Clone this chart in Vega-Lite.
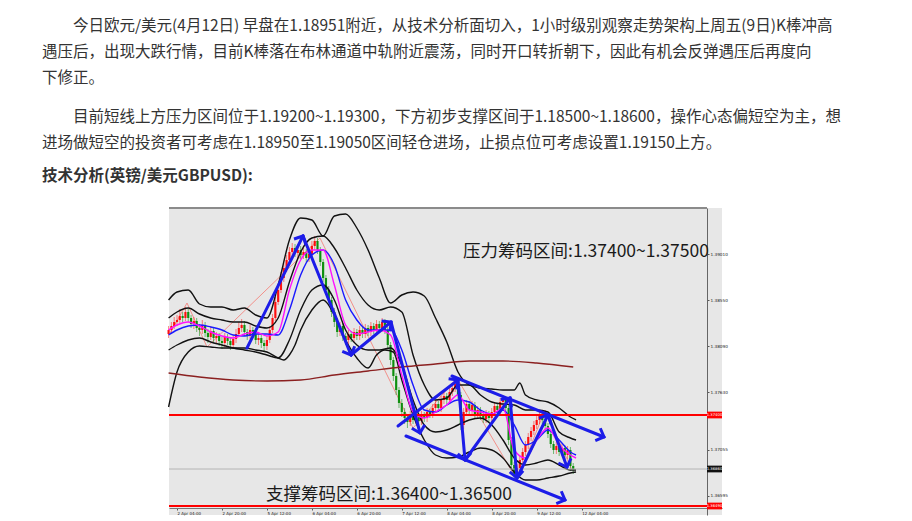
{
  "$schema": "https://vega.github.io/schema/vega-lite/v6.json",
  "width": 553,
  "height": 307,
  "autosize": {"type": "none"},
  "padding": {"left": 169, "top": 208, "right": 190, "bottom": 6},
  "background": "white",
  "title": {
    "text": [
      "\u200b　　今日欧元/美元(4月12日) 早盘在1.18951附近，从技术分析面切入，1小时级别观察走势架构上周五(9日)K棒冲高",
      "\u200b",
      "遇压后，出现大跌行情，目前K棒落在布林通道中轨附近震荡，同时开口转折朝下，因此有机会反弹遇压后再度向",
      "\u200b",
      "下修正。",
      "\u200b",
      "\u200b",
      "\u200b　　目前短线上方压力区间位于1.19200~1.19300，下方初步支撑区间于1.18500~1.18600，操作心态偏短空为主，想",
      "\u200b",
      "进场做短空的投资者可考虑在1.18950至1.19050区间轻仓进场，止损点位可考虑设置1.19150上方。"
    ],
    "subtitle": "技术分析(英镑/美元GBPUSD):",
    "anchor": "start",
    "frame": "group",
    "orient": "top",
    "offset": 23,
    "dx": -127,
    "font": "Noto Sans CJK SC",
    "fontSize": 15.5,
    "fontWeight": "normal",
    "color": "#333333",
    "lineHeight": 13,
    "subtitleFont": "Noto Sans CJK SC",
    "subtitleFontSize": 15.5,
    "subtitleFontWeight": "bold",
    "subtitleColor": "#333333",
    "subtitlePadding": 17.5
  },
  "config": {
    "view": {"fill": "#e7e7e7", "stroke": null},
    "font": "DejaVu Sans",
    "axis": {"labelOverlap": false, "labelFlush": false, "labelBound": false}
  },
  "datasets": {
    "candles": [
      {"i":-3,"o":1.3821,"h":1.3829,"l":1.3817,"c":1.3825},
      {"i":-2,"o":1.3825,"h":1.3833,"l":1.3821,"c":1.3829},
      {"i":-1,"o":1.3829,"h":1.3838,"l":1.3826,"c":1.3833},
      {"i":0,"o":1.3833,"h":1.3840,"l":1.3829,"c":1.3835},
      {"i":1,"o":1.3835,"h":1.3846,"l":1.3832,"c":1.3839},
      {"i":2,"o":1.3839,"h":1.3843,"l":1.3833,"c":1.3837},
      {"i":3,"o":1.3837,"h":1.3848,"l":1.3834,"c":1.3843},
      {"i":4,"o":1.3843,"h":1.3846,"l":1.3833,"c":1.3837},
      {"i":5,"o":1.3837,"h":1.3840,"l":1.3827,"c":1.3831},
      {"i":6,"o":1.3831,"h":1.3838,"l":1.3826,"c":1.3834},
      {"i":7,"o":1.3834,"h":1.3837,"l":1.3823,"c":1.3827},
      {"i":8,"o":1.3827,"h":1.3831,"l":1.3819,"c":1.3825},
      {"i":9,"o":1.3825,"h":1.3835,"l":1.3821,"c":1.3830},
      {"i":10,"o":1.3830,"h":1.3833,"l":1.3818,"c":1.3822},
      {"i":11,"o":1.3822,"h":1.3826,"l":1.3812,"c":1.3818},
      {"i":12,"o":1.3818,"h":1.3829,"l":1.3815,"c":1.3824},
      {"i":13,"o":1.3824,"h":1.3827,"l":1.3813,"c":1.3817},
      {"i":14,"o":1.3817,"h":1.3823,"l":1.3811,"c":1.3819},
      {"i":15,"o":1.3819,"h":1.3822,"l":1.3809,"c":1.3814},
      {"i":16,"o":1.3814,"h":1.3818,"l":1.3806,"c":1.3812},
      {"i":17,"o":1.3812,"h":1.3822,"l":1.3808,"c":1.3818},
      {"i":18,"o":1.3818,"h":1.3821,"l":1.3810,"c":1.3814},
      {"i":19,"o":1.3814,"h":1.3817,"l":1.3805,"c":1.3810},
      {"i":20,"o":1.3810,"h":1.3820,"l":1.3806,"c":1.3816},
      {"i":21,"o":1.3816,"h":1.3826,"l":1.3812,"c":1.3821},
      {"i":22,"o":1.3821,"h":1.3833,"l":1.3818,"c":1.3827},
      {"i":23,"o":1.3827,"h":1.3836,"l":1.3823,"c":1.3830},
      {"i":24,"o":1.3830,"h":1.3834,"l":1.3819,"c":1.3823},
      {"i":25,"o":1.3823,"h":1.3826,"l":1.3815,"c":1.3819},
      {"i":26,"o":1.3819,"h":1.3830,"l":1.3816,"c":1.3825},
      {"i":27,"o":1.3825,"h":1.3828,"l":1.3817,"c":1.3821},
      {"i":28,"o":1.3821,"h":1.3824,"l":1.3811,"c":1.3815},
      {"i":29,"o":1.3815,"h":1.3821,"l":1.3810,"c":1.3817},
      {"i":30,"o":1.3817,"h":1.3820,"l":1.3807,"c":1.3812},
      {"i":31,"o":1.3812,"h":1.3815,"l":1.3803,"c":1.3809},
      {"i":32,"o":1.3809,"h":1.3819,"l":1.3805,"c":1.3815},
      {"i":33,"o":1.3815,"h":1.3829,"l":1.3812,"c":1.3825},
      {"i":34,"o":1.3825,"h":1.3841,"l":1.3822,"c":1.3837},
      {"i":35,"o":1.3837,"h":1.3858,"l":1.3834,"c":1.3853},
      {"i":36,"o":1.3853,"h":1.3870,"l":1.3850,"c":1.3865},
      {"i":37,"o":1.3865,"h":1.3883,"l":1.3862,"c":1.3877},
      {"i":38,"o":1.3877,"h":1.3892,"l":1.3873,"c":1.3887},
      {"i":39,"o":1.3887,"h":1.3900,"l":1.3883,"c":1.3895},
      {"i":40,"o":1.3895,"h":1.3908,"l":1.3891,"c":1.3903},
      {"i":41,"o":1.3903,"h":1.3912,"l":1.3899,"c":1.3907},
      {"i":42,"o":1.3907,"h":1.3911,"l":1.3898,"c":1.3902},
      {"i":43,"o":1.3902,"h":1.3910,"l":1.3897,"c":1.3905},
      {"i":44,"o":1.3905,"h":1.3909,"l":1.3896,"c":1.3900},
      {"i":45,"o":1.3900,"h":1.3907,"l":1.3896,"c":1.3903},
      {"i":46,"o":1.3903,"h":1.3906,"l":1.3893,"c":1.3897},
      {"i":47,"o":1.3897,"h":1.3905,"l":1.3893,"c":1.3901},
      {"i":48,"o":1.3901,"h":1.3914,"l":1.3898,"c":1.3909},
      {"i":49,"o":1.3909,"h":1.3919,"l":1.3905,"c":1.3914},
      {"i":50,"o":1.3914,"h":1.3917,"l":1.3901,"c":1.3905},
      {"i":51,"o":1.3905,"h":1.3908,"l":1.3889,"c":1.3893},
      {"i":52,"o":1.3893,"h":1.3896,"l":1.3873,"c":1.3877},
      {"i":53,"o":1.3877,"h":1.3880,"l":1.3860,"c":1.3865},
      {"i":54,"o":1.3865,"h":1.3869,"l":1.3850,"c":1.3855},
      {"i":55,"o":1.3855,"h":1.3858,"l":1.3838,"c":1.3843},
      {"i":56,"o":1.3843,"h":1.3847,"l":1.3828,"c":1.3833},
      {"i":57,"o":1.3833,"h":1.3837,"l":1.3818,"c":1.3823},
      {"i":58,"o":1.3823,"h":1.3833,"l":1.3819,"c":1.3829},
      {"i":59,"o":1.3829,"h":1.3832,"l":1.3814,"c":1.3819},
      {"i":60,"o":1.3819,"h":1.3822,"l":1.3810,"c":1.3815},
      {"i":61,"o":1.3815,"h":1.3825,"l":1.3811,"c":1.3821},
      {"i":62,"o":1.3821,"h":1.3824,"l":1.3813,"c":1.3817},
      {"i":63,"o":1.3817,"h":1.3827,"l":1.3813,"c":1.3823},
      {"i":64,"o":1.3823,"h":1.3826,"l":1.3815,"c":1.3819},
      {"i":65,"o":1.3819,"h":1.3829,"l":1.3815,"c":1.3825},
      {"i":66,"o":1.3825,"h":1.3828,"l":1.3817,"c":1.3821},
      {"i":67,"o":1.3821,"h":1.3831,"l":1.3817,"c":1.3827},
      {"i":68,"o":1.3827,"h":1.3830,"l":1.3819,"c":1.3823},
      {"i":69,"o":1.3823,"h":1.3833,"l":1.3819,"c":1.3829},
      {"i":70,"o":1.3829,"h":1.3832,"l":1.3821,"c":1.3825},
      {"i":71,"o":1.3825,"h":1.3835,"l":1.3821,"c":1.3831},
      {"i":72,"o":1.3831,"h":1.3834,"l":1.3823,"c":1.3827},
      {"i":73,"o":1.3827,"h":1.3837,"l":1.3823,"c":1.3833},
      {"i":74,"o":1.3833,"h":1.3836,"l":1.3821,"c":1.3825},
      {"i":75,"o":1.3825,"h":1.3828,"l":1.3806,"c":1.3810},
      {"i":76,"o":1.3810,"h":1.3813,"l":1.3790,"c":1.3795},
      {"i":77,"o":1.3795,"h":1.3798,"l":1.3774,"c":1.3779},
      {"i":78,"o":1.3779,"h":1.3782,"l":1.3760,"c":1.3765},
      {"i":79,"o":1.3765,"h":1.3768,"l":1.3747,"c":1.3752},
      {"i":80,"o":1.3752,"h":1.3756,"l":1.3738,"c":1.3743},
      {"i":81,"o":1.3743,"h":1.3747,"l":1.3731,"c":1.3737},
      {"i":82,"o":1.3737,"h":1.3741,"l":1.3727,"c":1.3733},
      {"i":83,"o":1.3733,"h":1.3744,"l":1.3729,"c":1.3740},
      {"i":84,"o":1.3740,"h":1.3743,"l":1.3731,"c":1.3735},
      {"i":85,"o":1.3735,"h":1.3743,"l":1.3731,"c":1.3739},
      {"i":86,"o":1.3739,"h":1.3742,"l":1.3730,"c":1.3734},
      {"i":87,"o":1.3734,"h":1.3744,"l":1.3730,"c":1.3740},
      {"i":88,"o":1.3740,"h":1.3743,"l":1.3733,"c":1.3737},
      {"i":89,"o":1.3737,"h":1.3747,"l":1.3733,"c":1.3743},
      {"i":90,"o":1.3743,"h":1.3746,"l":1.3737,"c":1.3741},
      {"i":91,"o":1.3741,"h":1.3751,"l":1.3737,"c":1.3747},
      {"i":92,"o":1.3747,"h":1.3755,"l":1.3743,"c":1.3751},
      {"i":93,"o":1.3751,"h":1.3754,"l":1.3743,"c":1.3747},
      {"i":94,"o":1.3747,"h":1.3759,"l":1.3743,"c":1.3755},
      {"i":95,"o":1.3755,"h":1.3763,"l":1.3751,"c":1.3759},
      {"i":96,"o":1.3759,"h":1.3762,"l":1.3751,"c":1.3755},
      {"i":97,"o":1.3755,"h":1.3767,"l":1.3751,"c":1.3763},
      {"i":98,"o":1.3763,"h":1.3771,"l":1.3759,"c":1.3767},
      {"i":99,"o":1.3767,"h":1.3776,"l":1.3763,"c":1.3771},
      {"i":100,"o":1.3771,"h":1.3776,"l":1.3756,"c":1.3760},
      {"i":101,"o":1.3760,"h":1.3763,"l":1.3725,"c":1.3730},
      {"i":102,"o":1.3730,"h":1.3747,"l":1.3726,"c":1.3743},
      {"i":103,"o":1.3743,"h":1.3755,"l":1.3739,"c":1.3751},
      {"i":104,"o":1.3751,"h":1.3754,"l":1.3741,"c":1.3745},
      {"i":105,"o":1.3745,"h":1.3754,"l":1.3741,"c":1.3750},
      {"i":106,"o":1.3750,"h":1.3753,"l":1.3737,"c":1.3741},
      {"i":107,"o":1.3741,"h":1.3749,"l":1.3737,"c":1.3745},
      {"i":108,"o":1.3745,"h":1.3748,"l":1.3735,"c":1.3739},
      {"i":109,"o":1.3739,"h":1.3742,"l":1.3732,"c":1.3736},
      {"i":110,"o":1.3736,"h":1.3745,"l":1.3732,"c":1.3741},
      {"i":111,"o":1.3741,"h":1.3744,"l":1.3733,"c":1.3737},
      {"i":112,"o":1.3737,"h":1.3747,"l":1.3733,"c":1.3743},
      {"i":113,"o":1.3743,"h":1.3753,"l":1.3739,"c":1.3749},
      {"i":114,"o":1.3749,"h":1.3752,"l":1.3741,"c":1.3745},
      {"i":115,"o":1.3745,"h":1.3757,"l":1.3741,"c":1.3753},
      {"i":116,"o":1.3753,"h":1.3760,"l":1.3749,"c":1.3755},
      {"i":117,"o":1.3755,"h":1.3758,"l":1.3743,"c":1.3747},
      {"i":118,"o":1.3747,"h":1.3750,"l":1.3710,"c":1.3715},
      {"i":119,"o":1.3715,"h":1.3718,"l":1.3685,"c":1.3690},
      {"i":120,"o":1.3690,"h":1.3693,"l":1.3674,"c":1.3680},
      {"i":121,"o":1.3680,"h":1.3691,"l":1.3676,"c":1.3687},
      {"i":122,"o":1.3687,"h":1.3699,"l":1.3683,"c":1.3695},
      {"i":123,"o":1.3695,"h":1.3707,"l":1.3691,"c":1.3703},
      {"i":124,"o":1.3703,"h":1.3714,"l":1.3699,"c":1.3710},
      {"i":125,"o":1.3710,"h":1.3722,"l":1.3706,"c":1.3718},
      {"i":126,"o":1.3718,"h":1.3728,"l":1.3714,"c":1.3724},
      {"i":127,"o":1.3724,"h":1.3734,"l":1.3720,"c":1.3730},
      {"i":128,"o":1.3730,"h":1.3740,"l":1.3726,"c":1.3735},
      {"i":129,"o":1.3735,"h":1.3744,"l":1.3731,"c":1.3739},
      {"i":130,"o":1.3739,"h":1.3742,"l":1.3731,"c":1.3735},
      {"i":131,"o":1.3735,"h":1.3738,"l":1.3725,"c":1.3729},
      {"i":132,"o":1.3729,"h":1.3732,"l":1.3717,"c":1.3721},
      {"i":133,"o":1.3721,"h":1.3724,"l":1.3707,"c":1.3711},
      {"i":134,"o":1.3711,"h":1.3714,"l":1.3701,"c":1.3705},
      {"i":135,"o":1.3705,"h":1.3713,"l":1.3701,"c":1.3709},
      {"i":136,"o":1.3709,"h":1.3712,"l":1.3699,"c":1.3703},
      {"i":137,"o":1.3703,"h":1.3711,"l":1.3699,"c":1.3707},
      {"i":138,"o":1.3707,"h":1.3710,"l":1.3696,"c":1.3700},
      {"i":139,"o":1.3700,"h":1.3709,"l":1.3696,"c":1.3705},
      {"i":140,"o":1.3705,"h":1.3708,"l":1.3684,"c":1.3689},
      {"i":141,"o":1.3689,"h":1.3692,"l":1.3681,"c":1.3686}
    ],
    "lines": [
      {"s":"bbU","i":-3,"v":1.3855},{"s":"bbU","i":0,"v":1.3863},{"s":"bbU","i":4,"v":1.3865},{"s":"bbU","i":8,"v":1.3851},{"s":"bbU","i":12,"v":1.3848},{"s":"bbU","i":16,"v":1.3848},{"s":"bbU","i":20,"v":1.3845},{"s":"bbU","i":24,"v":1.3847},{"s":"bbU","i":28,"v":1.3840},{"s":"bbU","i":32,"v":1.3837},{"s":"bbU","i":36,"v":1.3870},{"s":"bbU","i":40,"v":1.3915},{"s":"bbU","i":44,"v":1.3937},{"s":"bbU","i":48,"v":1.3935},{"s":"bbU","i":52,"v":1.3919},{"s":"bbU","i":56,"v":1.3939},{"s":"bbU","i":60,"v":1.3941},{"s":"bbU","i":64,"v":1.3927},{"s":"bbU","i":68,"v":1.3905},{"s":"bbU","i":72,"v":1.3877},{"s":"bbU","i":76,"v":1.3852},{"s":"bbU","i":80,"v":1.3860},{"s":"bbU","i":84,"v":1.3863},{"s":"bbU","i":88,"v":1.3859},{"s":"bbU","i":92,"v":1.3837},{"s":"bbU","i":96,"v":1.3813},{"s":"bbU","i":100,"v":1.3783},{"s":"bbU","i":104,"v":1.3770},{"s":"bbU","i":108,"v":1.3767},{"s":"bbU","i":112,"v":1.3766},{"s":"bbU","i":116,"v":1.3765},{"s":"bbU","i":120,"v":1.3765},{"s":"bbU","i":122,"v":1.3772},{"s":"bbU","i":124,"v":1.3760},{"s":"bbU","i":128,"v":1.3755},{"s":"bbU","i":132,"v":1.3753},{"s":"bbU","i":136,"v":1.3747},{"s":"bbU","i":140,"v":1.3738},{"s":"bbU","i":142,"v":1.3735},
      {"s":"bbL","i":-3,"v":1.3748},{"s":"bbL","i":0,"v":1.3783},{"s":"bbL","i":4,"v":1.3803},{"s":"bbL","i":8,"v":1.3809},{"s":"bbL","i":12,"v":1.3808},{"s":"bbL","i":16,"v":1.3807},{"s":"bbL","i":20,"v":1.3807},{"s":"bbL","i":24,"v":1.3807},{"s":"bbL","i":28,"v":1.3805},{"s":"bbL","i":32,"v":1.3803},{"s":"bbL","i":36,"v":1.3797},{"s":"bbL","i":38,"v":1.3795},{"s":"bbL","i":40,"v":1.3800},{"s":"bbL","i":42,"v":1.3810},{"s":"bbL","i":44,"v":1.3825},{"s":"bbL","i":48,"v":1.3845},{"s":"bbL","i":52,"v":1.3855},{"s":"bbL","i":56,"v":1.3840},{"s":"bbL","i":60,"v":1.3815},{"s":"bbL","i":64,"v":1.3797},{"s":"bbL","i":68,"v":1.3787},{"s":"bbL","i":71,"v":1.3800},{"s":"bbL","i":74,"v":1.3805},{"s":"bbL","i":77,"v":1.3803},{"s":"bbL","i":80,"v":1.3775},{"s":"bbL","i":84,"v":1.3740},{"s":"bbL","i":88,"v":1.3715},{"s":"bbL","i":92,"v":1.3700},{"s":"bbL","i":96,"v":1.3697},{"s":"bbL","i":100,"v":1.3698},{"s":"bbL","i":104,"v":1.3703},{"s":"bbL","i":108,"v":1.3707},{"s":"bbL","i":112,"v":1.3705},{"s":"bbL","i":116,"v":1.3697},{"s":"bbL","i":120,"v":1.3683},{"s":"bbL","i":124,"v":1.3675},{"s":"bbL","i":128,"v":1.3675},{"s":"bbL","i":132,"v":1.3677},{"s":"bbL","i":136,"v":1.3679},{"s":"bbL","i":140,"v":1.3682},{"s":"bbL","i":142,"v":1.3683},
      {"s":"bbU2","i":-3,"v":1.3837},{"s":"bbU2","i":0,"v":1.3843},{"s":"bbU2","i":4,"v":1.3847},{"s":"bbU2","i":8,"v":1.3841},{"s":"bbU2","i":12,"v":1.3837},{"s":"bbU2","i":16,"v":1.3835},{"s":"bbU2","i":20,"v":1.3833},{"s":"bbU2","i":24,"v":1.3833},{"s":"bbU2","i":28,"v":1.3829},{"s":"bbU2","i":32,"v":1.3827},{"s":"bbU2","i":36,"v":1.3837},{"s":"bbU2","i":40,"v":1.3873},{"s":"bbU2","i":44,"v":1.3903},{"s":"bbU2","i":48,"v":1.3917},{"s":"bbU2","i":52,"v":1.3919},{"s":"bbU2","i":56,"v":1.3907},{"s":"bbU2","i":60,"v":1.3887},{"s":"bbU2","i":64,"v":1.3865},{"s":"bbU2","i":68,"v":1.3850},{"s":"bbU2","i":72,"v":1.3845},{"s":"bbU2","i":76,"v":1.3848},{"s":"bbU2","i":80,"v":1.3843},{"s":"bbU2","i":84,"v":1.3800},{"s":"bbU2","i":88,"v":1.3770},{"s":"bbU2","i":92,"v":1.3755},{"s":"bbU2","i":96,"v":1.3757},{"s":"bbU2","i":100,"v":1.3770},{"s":"bbU2","i":104,"v":1.3770},{"s":"bbU2","i":108,"v":1.3760},{"s":"bbU2","i":112,"v":1.3753},{"s":"bbU2","i":116,"v":1.3751},{"s":"bbU2","i":120,"v":1.3750},{"s":"bbU2","i":124,"v":1.3745},{"s":"bbU2","i":128,"v":1.3745},{"s":"bbU2","i":132,"v":1.3743},{"s":"bbU2","i":136,"v":1.3723},{"s":"bbU2","i":140,"v":1.3717},{"s":"bbU2","i":142,"v":1.3715},
      {"s":"bbL2","i":-3,"v":1.3805},{"s":"bbL2","i":0,"v":1.3810},{"s":"bbL2","i":4,"v":1.3815},{"s":"bbL2","i":8,"v":1.3817},{"s":"bbL2","i":12,"v":1.3813},{"s":"bbL2","i":16,"v":1.3810},{"s":"bbL2","i":20,"v":1.3807},{"s":"bbL2","i":24,"v":1.3805},{"s":"bbL2","i":28,"v":1.3803},{"s":"bbL2","i":32,"v":1.3800},{"s":"bbL2","i":36,"v":1.3797},{"s":"bbL2","i":40,"v":1.3815},{"s":"bbL2","i":44,"v":1.3845},{"s":"bbL2","i":48,"v":1.3865},{"s":"bbL2","i":52,"v":1.3870},{"s":"bbL2","i":56,"v":1.3855},{"s":"bbL2","i":60,"v":1.3825},{"s":"bbL2","i":64,"v":1.3810},{"s":"bbL2","i":68,"v":1.3805},{"s":"bbL2","i":72,"v":1.3805},{"s":"bbL2","i":76,"v":1.3807},{"s":"bbL2","i":80,"v":1.3790},{"s":"bbL2","i":84,"v":1.3755},{"s":"bbL2","i":88,"v":1.3730},{"s":"bbL2","i":92,"v":1.3723},{"s":"bbL2","i":96,"v":1.3725},{"s":"bbL2","i":100,"v":1.3730},{"s":"bbL2","i":104,"v":1.3735},{"s":"bbL2","i":108,"v":1.3737},{"s":"bbL2","i":112,"v":1.3730},{"s":"bbL2","i":116,"v":1.3715},{"s":"bbL2","i":120,"v":1.3697},{"s":"bbL2","i":124,"v":1.3690},{"s":"bbL2","i":128,"v":1.3692},{"s":"bbL2","i":132,"v":1.3695},{"s":"bbL2","i":136,"v":1.3690},{"s":"bbL2","i":140,"v":1.3685},{"s":"bbL2","i":142,"v":1.3685},
      {"s":"ma1","i":-3,"v":1.3820},{"s":"ma1","i":0,"v":1.3825},{"s":"ma1","i":4,"v":1.3829},{"s":"ma1","i":8,"v":1.3830},{"s":"ma1","i":12,"v":1.3828},{"s":"ma1","i":16,"v":1.3825},{"s":"ma1","i":20,"v":1.3820},{"s":"ma1","i":24,"v":1.3819},{"s":"ma1","i":28,"v":1.3821},{"s":"ma1","i":32,"v":1.3821},{"s":"ma1","i":36,"v":1.3820},{"s":"ma1","i":40,"v":1.3845},{"s":"ma1","i":44,"v":1.3880},{"s":"ma1","i":48,"v":1.3900},{"s":"ma1","i":52,"v":1.3905},{"s":"ma1","i":56,"v":1.3890},{"s":"ma1","i":60,"v":1.3855},{"s":"ma1","i":64,"v":1.3835},{"s":"ma1","i":68,"v":1.3825},{"s":"ma1","i":72,"v":1.3825},{"s":"ma1","i":76,"v":1.3825},{"s":"ma1","i":80,"v":1.3805},{"s":"ma1","i":84,"v":1.3770},{"s":"ma1","i":88,"v":1.3745},{"s":"ma1","i":92,"v":1.3743},{"s":"ma1","i":96,"v":1.3750},{"s":"ma1","i":100,"v":1.3755},{"s":"ma1","i":104,"v":1.3753},{"s":"ma1","i":108,"v":1.3745},{"s":"ma1","i":112,"v":1.3741},{"s":"ma1","i":116,"v":1.3745},{"s":"ma1","i":120,"v":1.3730},{"s":"ma1","i":124,"v":1.3710},{"s":"ma1","i":128,"v":1.3715},{"s":"ma1","i":132,"v":1.3725},{"s":"ma1","i":136,"v":1.3715},{"s":"ma1","i":140,"v":1.3703},{"s":"ma1","i":142,"v":1.3700},
      {"s":"ma2","i":-3,"v":1.3825},{"s":"ma2","i":0,"v":1.3830},{"s":"ma2","i":4,"v":1.3833},{"s":"ma2","i":8,"v":1.3829},{"s":"ma2","i":12,"v":1.3823},{"s":"ma2","i":16,"v":1.3819},{"s":"ma2","i":20,"v":1.3817},{"s":"ma2","i":24,"v":1.3821},{"s":"ma2","i":28,"v":1.3823},{"s":"ma2","i":32,"v":1.3819},{"s":"ma2","i":36,"v":1.3823},{"s":"ma2","i":40,"v":1.3865},{"s":"ma2","i":44,"v":1.3895},{"s":"ma2","i":48,"v":1.3905},{"s":"ma2","i":52,"v":1.3905},{"s":"ma2","i":56,"v":1.3870},{"s":"ma2","i":60,"v":1.3830},{"s":"ma2","i":64,"v":1.3821},{"s":"ma2","i":68,"v":1.3823},{"s":"ma2","i":72,"v":1.3825},{"s":"ma2","i":76,"v":1.3820},{"s":"ma2","i":80,"v":1.3780},{"s":"ma2","i":84,"v":1.3743},{"s":"ma2","i":88,"v":1.3737},{"s":"ma2","i":92,"v":1.3743},{"s":"ma2","i":96,"v":1.3750},{"s":"ma2","i":100,"v":1.3760},{"s":"ma2","i":104,"v":1.3745},{"s":"ma2","i":108,"v":1.3743},{"s":"ma2","i":112,"v":1.3741},{"s":"ma2","i":116,"v":1.3747},{"s":"ma2","i":120,"v":1.3705},{"s":"ma2","i":124,"v":1.3697},{"s":"ma2","i":128,"v":1.3715},{"s":"ma2","i":132,"v":1.3727},{"s":"ma2","i":136,"v":1.3710},{"s":"ma2","i":140,"v":1.3700},{"s":"ma2","i":142,"v":1.3697},
      {"s":"ma200","i":-3,"v":1.3782},{"s":"ma200","i":8,"v":1.3778},{"s":"ma200","i":20,"v":1.3775},{"s":"ma200","i":32,"v":1.3774},{"s":"ma200","i":44,"v":1.3775},{"s":"ma200","i":56,"v":1.3780},{"s":"ma200","i":68,"v":1.3784},{"s":"ma200","i":80,"v":1.3788},{"s":"ma200","i":92,"v":1.3791},{"s":"ma200","i":104,"v":1.3794},{"s":"ma200","i":116,"v":1.3794},{"s":"ma200","i":128,"v":1.3792},{"s":"ma200","i":141,"v":1.3788}
    ],
    "zigzag": [
      {"i":-2.85,"v":1.3820},{"i":3.56,"v":1.3852},{"i":10.68,"v":1.3808},{"i":50.89,"v":1.3917},{"i":83.99,"v":1.3727},{"i":99.64,"v":1.3777},{"i":121.0,"v":1.3675},{"i":130.96,"v":1.3745},{"i":140.57,"v":1.3685}
    ],
    "arrows": [
      {"a":"A1","i":24.91,"p":1.3807,"i2":44.84,"p2":1.3919},
      {"a":"A2","i":44.84,"p":1.3919,"i2":61.92,"p2":1.3800},
      {"a":"A3","i":61.92,"p":1.3800,"i2":76.16,"p2":1.3833},
      {"a":"A4","i":76.16,"p":1.3833,"i2":86.48,"p2":1.3722},
      {"a":"A5","i":78.65,"p":1.3729,"i2":100.0,"p2":1.3775},
      {"a":"A6","i":100.0,"p":1.3775,"i2":102.49,"p2":1.3695},
      {"a":"A7","i":102.49,"p":1.3695,"i2":118.51,"p2":1.3757},
      {"a":"A8","i":118.51,"p":1.3757,"i2":121.0,"p2":1.3677},
      {"a":"A9","i":121.0,"p":1.3677,"i2":132.03,"p2":1.3740},
      {"a":"A10","i":132.03,"p":1.3740,"i2":138.79,"p2":1.3688},
      {"a":"U","i":97.86,"p":1.3779,"i2":151.96,"p2":1.3718},
      {"a":"L","i":81.49,"p":1.3719,"i2":138.08,"p2":1.3655}
    ],
    "levels": [
      {"lv":1.374,"lab":"1.37400","k":"r"},
      {"lv":1.3686,"lab":"1.36860","k":"c"},
      {"lv":1.3649,"lab":"1.36490","k":"r"}
    ],
    "notes": [
      {"t":"压力筹码区间:1.37400~1.37500","k":"res"},
      {"t":"支撑筹码区间:1.36400~1.36500","k":"sup"}
    ]
  },
  "layer": [
    {
      "data": {"name": "zigzag"},
      "mark": {"type": "line", "color": "#f2908a", "strokeWidth": 1},
      "encoding": {
        "x": {"field": "i", "type": "quantitative", "title": null,
              "scale": {"domain": [-2.85, 193.95], "nice": false, "zero": false},
              "axis": {"orient": "bottom", "offset": -7, "values": [0,8,16,24,32,40,48,56,64,72,80,88,96,104,112,120,128,136,144],
                       "labelExpr": "['2 Apr 04:00','2 Apr 12:00','2 Apr 20:00','5 Apr 04:00','5 Apr 12:00','5 Apr 20:00','6 Apr 04:00','6 Apr 12:00','6 Apr 20:00','7 Apr 04:00','7 Apr 12:00','7 Apr 20:00','8 Apr 04:00','8 Apr 12:00','8 Apr 20:00','9 Apr 04:00','9 Apr 12:00','9 Apr 20:00','12 Apr 04:00'][round(datum.value/8)]",
                       "labelFontSize": 4, "labelAlign": "left", "labelPadding": 1, "labelColor": "#222222", "labelOverlap": false, "labelFlush": false,
                       "tickSize": 2, "tickColor": "#555555", "domainColor": "#777777", "grid": false}},
        "y": {"field": "v", "type": "quantitative", "title": null,
              "scale": {"domain": [1.364, 1.3947], "nice": false, "zero": false},
              "axis": {"orient": "right", "offset": -15, "values": [1.36595,1.3671,1.36825,1.3694,1.37055,1.3717,1.37285,1.37515,1.3763,1.37745,1.3786,1.37975,1.3809,1.38205,1.3832,1.38435,1.3855,1.38665,1.3878,1.38895,1.3901,1.39125,1.3924,1.39355],
                       "format": ".5f", "labelFontSize": 4.2, "labelPadding": 1, "labelColor": "#222222", "labelOverlap": false, "labelFlush": false,
                       "tickSize": 2, "tickColor": "#555555", "domainColor": "#666666", "grid": false}},
        "order": {"field": "i"}
      }
    },
    {
      "data": {"name": "candles"},
      "mark": {"type": "rule", "strokeWidth": 1, "opacity": 0.55},
      "encoding": {
        "x": {"field": "i", "type": "quantitative", "title": null},
        "y": {"field": "l", "type": "quantitative", "title": null},
        "y2": {"field": "h"},
        "color": {"condition": {"test": "datum.c >= datum.o", "value": "#ff2020"}, "value": "#109010"}
      }
    },
    {
      "data": {"name": "candles"},
      "mark": {"type": "rule", "strokeWidth": 2.2, "opacity": 0.9},
      "encoding": {
        "x": {"field": "i", "type": "quantitative", "title": null},
        "y": {"field": "o", "type": "quantitative", "title": null},
        "y2": {"field": "c"},
        "color": {"condition": {"test": "datum.c >= datum.o", "value": "#ff0000"}, "value": "#008a00"}
      }
    },
    {
      "data": {"name": "lines"},
      "mark": {"type": "line", "strokeWidth": 1.4, "interpolate": "monotone"},
      "encoding": {
        "x": {"field": "i", "type": "quantitative", "title": null},
        "y": {"field": "v", "type": "quantitative", "title": null},
        "detail": {"field": "s"},
        "color": {"field": "s", "type": "nominal", "legend": null,
                  "scale": {"domain": ["bbU","bbL","bbU2","bbL2","ma1","ma2","ma200"],
                            "range": ["#111111","#111111","#111111","#111111","#1a1aff","#ff10ff","#8b2020"]}},
        "order": {"field": "i"}
      }
    },
    {
      "data": {"name": "levels"},
      "mark": {"type": "rule"},
      "encoding": {
        "y": {"field": "lv", "type": "quantitative", "title": null},
        "color": {"condition": {"test": "datum.k == 'r'", "value": "#ff0000"}, "value": "#b4b4b4"},
        "strokeWidth": {"condition": {"test": "datum.k == 'r'", "value": 1.8}, "value": 1}
      }
    },
    {
      "data": {"name": "levels"},
      "mark": {"type": "rule", "color": "#8a8a8a", "strokeWidth": 1.5},
      "encoding": {
        "x": {"datum": -2.85},
        "x2": {"datum": 188.6},
        "y": {"datum": 1.3947}
      }
    },
    {
      "data": {"name": "arrows"},
      "mark": {"type": "rule", "color": "#1c1ce8", "strokeWidth": 3, "strokeCap": "round"},
      "encoding": {
        "x": {"field": "i", "type": "quantitative", "title": null},
        "y": {"field": "p", "type": "quantitative", "title": null},
        "x2": {"field": "i2"},
        "y2": {"field": "p2"}
      }
    },
    {
      "data": {"name": "arrows"},
      "transform": [{"calculate": "atan2((datum.i2 - datum.i) * 2.81, (datum.p2 - datum.p) * 10000) * 180 / PI", "as": "ang"}],
      "mark": {"type": "point", "shape": "M-1,1L0,0L1,1", "filled": false, "stroke": "#1c1ce8", "strokeWidth": 3, "size": 180, "opacity": 1, "strokeJoin": "miter"},
      "encoding": {
        "x": {"field": "i2", "type": "quantitative", "title": null},
        "y": {"field": "p2", "type": "quantitative", "title": null},
        "angle": {"field": "ang", "type": "quantitative", "scale": null}
      }
    },
    {
      "data": {"name": "notes"},
      "transform": [{"filter": "datum.k == 'res'"}],
      "mark": {"type": "text", "font": "Noto Sans CJK SC", "fontSize": 17.5, "color": "#1a1a1a", "align": "left", "baseline": "middle"},
      "encoding": {
        "x": {"datum": 101.8},
        "y": {"datum": 1.3903},
        "text": {"field": "t"}
      }
    },
    {
      "data": {"name": "notes"},
      "transform": [{"filter": "datum.k == 'sup'"}],
      "mark": {"type": "text", "font": "Noto Sans CJK SC", "fontSize": 17.5, "color": "#1a1a1a", "align": "left", "baseline": "middle"},
      "encoding": {
        "x": {"datum": 31.67},
        "y": {"datum": 1.366},
        "text": {"field": "t"}
      }
    },
    {
      "data": {"name": "levels"},
      "mark": {"type": "point", "shape": "M-1,-0.45L1,-0.45L1,0.45L-1,0.45Z", "filled": true, "size": 225, "opacity": 1},
      "encoding": {
        "x": {"datum": 191.28},
        "y": {"field": "lv", "type": "quantitative", "title": null},
        "color": {"condition": {"test": "datum.k == 'r'", "value": "#ff0000"}, "value": "#111111"}
      }
    },
    {
      "data": {"name": "levels"},
      "mark": {"type": "text", "fontSize": 3.8, "color": "#ffffff", "align": "center", "baseline": "middle"},
      "encoding": {
        "x": {"datum": 191.28},
        "y": {"field": "lv", "type": "quantitative", "title": null},
        "text": {"field": "lab"}
      }
    }
  ]
}
